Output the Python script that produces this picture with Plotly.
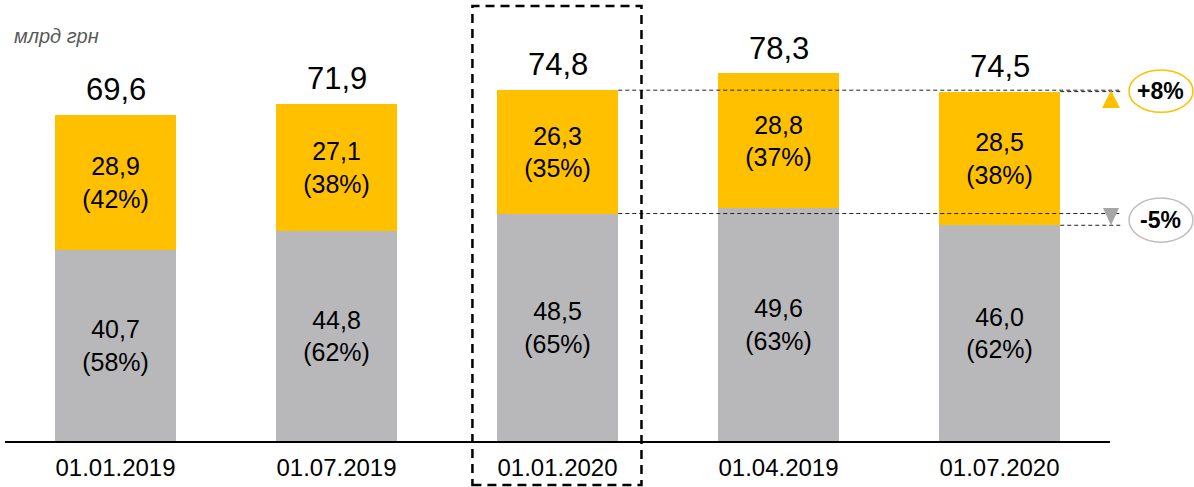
import plotly.graph_objects as go

categories = ["01.01.2019", "01.07.2019", "01.01.2020", "01.04.2019", "01.07.2020"]
bottom_vals = [40.7, 44.8, 48.5, 49.6, 46.0]
bottom_pct = [58, 62, 65, 63, 62]
top_vals = [28.9, 27.1, 26.3, 28.8, 28.5]
top_pct = [42, 38, 35, 37, 38]
totals = [69.6, 71.9, 74.8, 78.3, 74.5]
unit_label = "млрд грн"
change_top = "+8%"
change_bottom = "-5%"

FONT = "Liberation Sans, Arial, sans-serif"
GOLD = "#FFC000"
GRAY = "#B8B8BA"
BAR_W = 0.55
Y_MAX = 91.9


def fmt(v):
    return f"{v:.1f}".replace(".", ",")


fig = go.Figure()
fig.add_trace(go.Bar(
    x=categories, y=bottom_vals, width=BAR_W, marker=dict(color=GRAY, line=dict(width=0)),
    text=[f"{fmt(v)}<br>({p}%)" for v, p in zip(bottom_vals, bottom_pct)],
    textposition="inside", insidetextanchor="middle", textangle=0,
    textfont=dict(family=FONT, size=25, color="#000000"), hoverinfo="skip",
))
fig.add_trace(go.Bar(
    x=categories, y=top_vals, width=BAR_W, marker=dict(color=GOLD, line=dict(width=0)),
    text=[f"{fmt(v)}<br>({p}%)" for v, p in zip(top_vals, top_pct)],
    textposition="inside", insidetextanchor="middle", textangle=0,
    textfont=dict(family=FONT, size=25, color="#000000"), hoverinfo="skip",
))

annotations = []
for c, t in zip(categories, totals):
    annotations.append(dict(x=c, y=t, xref="x", yref="y", text=fmt(t), showarrow=False,
                            yanchor="bottom", yshift=6,
                            font=dict(family=FONT, size=31, color="#000000")))

# unit label
annotations.append(dict(x=0.006, y=1.0, xref="paper", yref="paper", text=unit_label,
                        showarrow=False, xanchor="left", yanchor="middle", yshift=-26,
                        font=dict(family=FONT, size=20, color="#595959", style="italic")))


def px_x(i):
    # convert category index to paper coordinate
    return (i + 0.5) / 5.0


shapes = []
dash_line = dict(color="#222222", width=1, dash="4px,3px")
x_end = 1.0105
# dashed guide lines
shapes.append(dict(type="line", xref="paper", yref="y", x0=px_x(2 + BAR_W / 2), x1=x_end,
                   y0=totals[2], y1=totals[2], line=dash_line))
shapes.append(dict(type="line", xref="paper", yref="y", x0=px_x(4 + BAR_W / 2), x1=x_end,
                   y0=totals[4], y1=totals[4], line=dash_line))
shapes.append(dict(type="line", xref="paper", yref="y", x0=px_x(2 + BAR_W / 2), x1=x_end,
                   y0=bottom_vals[2], y1=bottom_vals[2], line=dash_line))
shapes.append(dict(type="line", xref="paper", yref="y", x0=px_x(4 + BAR_W / 2), x1=x_end,
                   y0=bottom_vals[4], y1=bottom_vals[4], line=dash_line))

# triangles
tx = 1.0009
hw = 0.0081
shapes.append(dict(type="path", xref="paper", yref="y",
                   path=f"M {tx - hw} 71.0 L {tx + hw} 71.0 L {tx} {totals[2]} Z",
                   fillcolor=GOLD, line=dict(width=0)))
shapes.append(dict(type="path", xref="paper", yref="y",
                   path=f"M {tx - hw * 0.9} 49.7 L {tx + hw * 0.9} 49.7 L {tx} {bottom_vals[4]} Z",
                   fillcolor="#A6A6A6", line=dict(width=0)))

# ellipses
shapes.append(dict(type="circle", xref="paper", yref="y", x0=1.0172, x1=1.0751, y0=70.1, y1=79.1,
                   line=dict(color=GOLD, width=1.5)))
shapes.append(dict(type="circle", xref="paper", yref="y", x0=1.0172, x1=1.0751, y0=42.4, y1=51.8,
                   line=dict(color="#BFBFBF", width=1.5)))
annotations.append(dict(x=1.0461, y=74.6, xref="paper", yref="y", text=f"<b>{change_top}</b>",
                        showarrow=False, xanchor="center", yanchor="middle",
                        font=dict(family=FONT, size=23, color="#000000")))
annotations.append(dict(x=1.0461, y=47.1, xref="paper", yref="y", text=f"<b>{change_bottom}</b>",
                        showarrow=False, xanchor="center", yanchor="middle",
                        font=dict(family=FONT, size=23, color="#000000")))

# dashed highlight frame around the third bar
shapes.append(dict(type="rect", xref="x", yref="paper", x0=1.615, x1=2.38, y0=-0.102, y1=1.0093,
                   line=dict(color="#000000", width=2.5, dash="9px,6px"), fillcolor="rgba(0,0,0,0)"))

fig.update_layout(
    barmode="stack",
    width=1194, height=487,
    margin=dict(l=5, r=84, t=10, b=46),
    paper_bgcolor="white", plot_bgcolor="white",
    showlegend=False,
    uniformtext=dict(mode=False),
    xaxis=dict(type="category", range=[-0.5, 4.5], showline=True, linecolor="#000000", linewidth=2,
               ticks="", showgrid=False, zeroline=False, ticklabelstandoff=4,
               tickfont=dict(family=FONT, size=24, color="#000000")),
    yaxis=dict(range=[0, Y_MAX], visible=False, showgrid=False, zeroline=False),
    shapes=shapes,
    annotations=annotations,
)

fig.write_html("out.html", config={"displayModeBar": False},
               post_script="document.body.style.margin='0';document.body.style.overflow='hidden';")
